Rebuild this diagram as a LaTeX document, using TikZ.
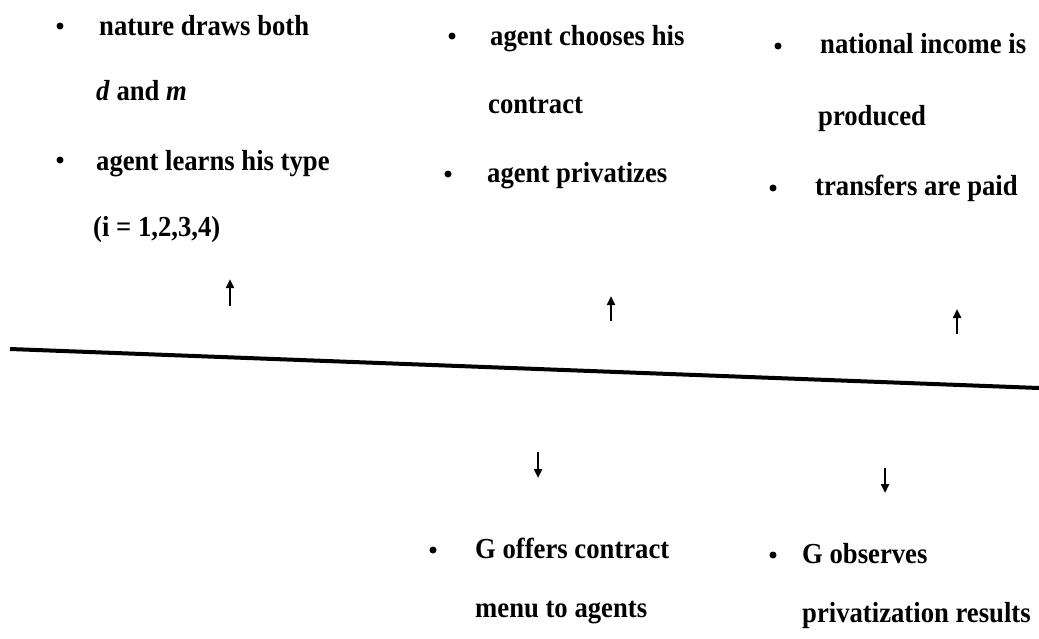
\documentclass[tikz,border=0pt]{standalone}
\usepackage{fontspec}
\setmainfont[FakeStretch=0.92]{Liberation Serif}
\usetikzlibrary{arrows.meta}
\begin{document}
\begin{tikzpicture}[x=1pt,y=-1pt,
  lbl/.style={anchor=base west, inner sep=0pt, font=\fontsize{29}{34}\selectfont\bfseries},
  dot/.style={circle, fill=black, inner sep=0pt, minimum size=7pt},
  tick/.style={line width=2.4pt, -{Triangle[width=8pt,length=9pt]}},
  axis/.style={line width=4pt}]
\useasboundingbox (0,0) rectangle (1039,638);
% column 1
\node[dot] (b1) at (60,26) {};
\node[lbl] (t1a) at (99,35) {nature draws both};
\node[lbl] (t1b) at (96,100) {\textit{d} and \textit{m}};
\node[dot] (b2) at (60,160) {};
\node[lbl] (t1c) at (96,170) {agent learns his type};
\node[lbl] (t1d) at (93,236) {(i = 1,2,3,4)};
% column 2
\node[dot] (b3) at (452,36) {};
\node[lbl] (t2a) at (490,45) {agent chooses his};
\node[lbl] (t2b) at (488,113) {contract};
\node[dot] (b4) at (448,174) {};
\node[lbl] (t2c) at (487,182) {agent privatizes};
% column 3
\node[dot] (b5) at (778,46) {};
\node[lbl] (t3a) at (820,53) {national income is};
\node[lbl] (t3b) at (818,125) {produced};
\node[dot] (b6) at (773,188) {};
\node[lbl] (t3c) at (815,195) {transfers are paid};
% bottom
\node[dot] (b7) at (433,550) {};
\node[lbl] (t4a) at (475,558) {G offers contract};
\node[lbl] (t4b) at (475,617) {menu to agents};
\node[dot] (b8) at (773,555) {};
\node[lbl] (t5a) at (802,563) {G observes};
\node[lbl] (t5b) at (802,622) {privatization results};
% time line
\coordinate (L) at (10,349);
\coordinate (R) at (1039,388);
\draw[axis] (L) -- (R);
% arrows
\coordinate (u1s) at (230,306); \coordinate (u1e) at (230,279);
\coordinate (u2s) at (611,321); \coordinate (u2e) at (611,296);
\coordinate (u3s) at (957,334); \coordinate (u3e) at (957,309);
\coordinate (d1s) at (538,452); \coordinate (d1e) at (538,478);
\coordinate (d2s) at (885,468); \coordinate (d2e) at (885,493);
\draw[tick] (u1s) -- (u1e);
\draw[tick] (u2s) -- (u2e);
\draw[tick] (u3s) -- (u3e);
\draw[tick] (d1s) -- (d1e);
\draw[tick] (d2s) -- (d2e);
\end{tikzpicture}
\end{document}
